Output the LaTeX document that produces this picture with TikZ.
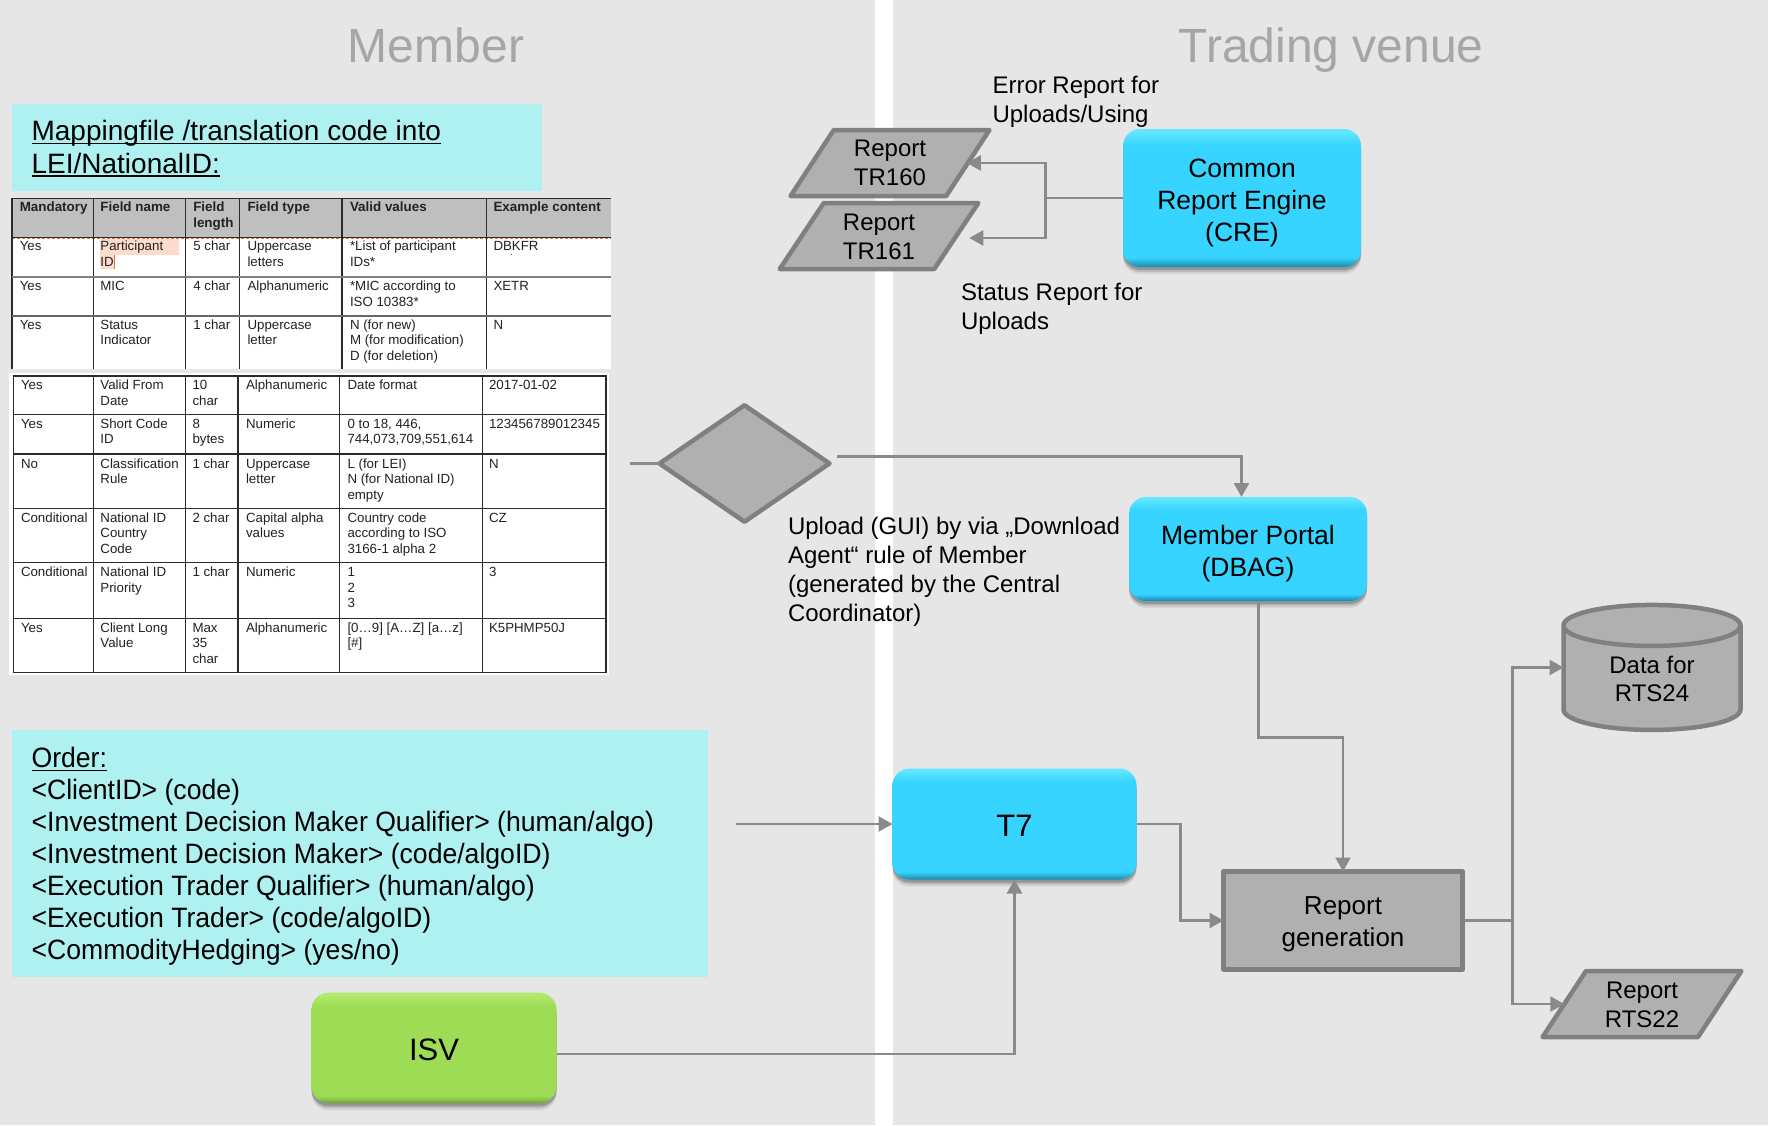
\documentclass[tikz,border=0pt]{standalone}
\usepackage{fontspec}
\setmainfont{Liberation Sans}
\newfontfamily\condfont[FakeStretch=0.95]{Liberation Sans}
\usetikzlibrary{arrows.meta,shapes.geometric,shadows}
\definecolor{panel}{HTML}{E6E6E6}
\definecolor{aqua}{HTML}{AEF1F0}
\definecolor{titlegray}{HTML}{A6A6A6}
\definecolor{shapefill}{HTML}{B0B0B0}
\definecolor{shapeline}{HTML}{808080}
\definecolor{connline}{HTML}{8A8A8A}
\definecolor{hdr}{HTML}{BFBFBF}
\definecolor{tline}{HTML}{2B2B2B}
\definecolor{ttext}{HTML}{222222}
\definecolor{hilite}{HTML}{FBDCCD}
\definecolor{cursor}{HTML}{E8743B}
\definecolor{CY1}{HTML}{1B86AB}
\definecolor{CY2}{HTML}{27A9D2}
\definecolor{CY3}{HTML}{36D4FF}
\definecolor{CY4}{HTML}{62E6FF}
\definecolor{GR1}{HTML}{6E9A3C}
\definecolor{GR2}{HTML}{86BC48}
\definecolor{GR3}{HTML}{9EDC56}
\definecolor{GR4}{HTML}{B2EA6C}
\pgfdeclareverticalshading{cyanbevel}{100bp}{color(0bp)=(CY1);color(25bp)=(CY1);color(26.5bp)=(CY2);color(28.5bp)=(CY3);color(69bp)=(CY3);color(74bp)=(CY4);color(75bp)=(CY4);color(100bp)=(CY4)}
\pgfdeclareverticalshading{greenbevel}{100bp}{color(0bp)=(GR1);color(25bp)=(GR1);color(26.5bp)=(GR2);color(28.5bp)=(GR3);color(69bp)=(GR3);color(74bp)=(GR4);color(75bp)=(GR4);color(100bp)=(GR4)}
\newcommand\myul[1]{\setbox0\hbox{#1}\rlap{\rule[-3.4bp]{\wd0}{1.6bp}}\box0}
\newcommand\topr[1]{\rule{0pt}{#1}}
\tikzset{
  x=1bp,y=-1bp,
  conn/.style={draw=connline,line width=2.5bp},
  arr/.style={conn,-{Triangle[length=14bp,width=15bp,fill=connline]}},
  tcell/.style={anchor=north west,inner sep=0pt,outer sep=0pt,align=left,text=ttext,
    font=\fontsize{13.3bp}{15.6bp}\selectfont},
  thead/.style={tcell,font=\fontsize{13.4bp}{15.6bp}\selectfont\bfseries},
  lab/.style={anchor=north west,inner sep=0pt,outer sep=0pt,align=left,
    font=\fontsize{24bp}{29bp}\selectfont},
  aquatext/.style={anchor=north west,inner sep=0pt,outer sep=0pt,align=left,
    font=\condfont\fontsize{28bp}{32bp}\selectfont},
  paneltitle/.style={anchor=base,inner sep=0pt,text=titlegray,font=\fontsize{48bp}{56bp}\selectfont},
  gloss/.style={rounded corners=17bp,align=center,inner sep=0pt,outer sep=0pt,
    drop shadow={shadow xshift=0bp,shadow yshift=-7bp,fill=black,opacity=.07},
    drop shadow={shadow xshift=0bp,shadow yshift=-5bp,fill=black,opacity=.12},
    drop shadow={shadow xshift=0bp,shadow yshift=-3bp,fill=black,opacity=.2}},
  cyanbox/.style={gloss,shade,shading=cyanbevel,font=\fontsize{26.5bp}{32bp}\selectfont},
  greenbox/.style={gloss,shade,shading=greenbevel,font=\fontsize{31bp}{36bp}\selectfont},
  grayshape/.style={draw=shapeline,fill=shapefill,line width=4.5bp,line join=round,align=center,
    inner sep=0pt,outer sep=0pt,font=\fontsize{24bp}{28.5bp}\selectfont},
  para/.style={grayshape,trapezium,trapezium left angle=58.5,trapezium right angle=121.5,
    trapezium stretches=true,minimum height=66bp},
}
\newcommand\tc[5][tcell]{\node[#1] (#2) at (#3,#4) {\topr{10.8bp}#5};}
\begin{document}
\begin{tikzpicture}
\useasboundingbox (0,0) rectangle (1768,1125);
\fill[white] (0,0) rectangle (1768,1125);
\fill[panel] (0,0) rectangle (875,1125);
\fill[panel] (893,0) rectangle (1768,1125);
\node[paneltitle] (tmember) at (436,62) {Member};
\node[paneltitle] (tvenue) at (1331,62) {Trading venue};
% mapping box
\fill[aqua] (12,104) rectangle (542,191);
\node[aquatext,font=\fontsize{28bp}{32.7bp}\selectfont] (mapping) at (31.6,120.5) {\myul{Mappingfile /translation code into}\\\myul{LEI/NationalID:}};
% table 1
\fill[white] (12,198) rectangle (611,369);
\fill[hdr] (12,198) rectangle (611,237.3);
\fill[hilite] (100,238.5) rectangle (179,255);
\fill[hilite] (100,255) rectangle (114.7,268.5);
\draw[cursor,densely dashed,line width=.9bp] (12,238) -- (611,238);
\draw[cursor,line width=.9bp] (114.5,255) -- (114.5,269);
\fill[red] (510.5,253.5) rectangle (512,255);
\draw[tline,line width=1.2bp] (12,198.3) -- (611,198.3);
\draw[tline,line width=1.2bp] (12,198.3) -- (12,369);
\foreach \xx in {93.3,185.8,239.2,342,486.3} \draw[tline,line width=1.1bp] (\xx,198.3) -- (\xx,369);
\draw[tline,line width=.8bp] (12,237.3) -- (611,237.3);
\draw[shapeline,line width=1.8bp] (12,277.3) -- (611,277.3);
\draw[shapeline!80!black,line width=1.4bp] (12,316) -- (611,316);
\tc[thead]{ha}{19.8}{200.7}{Mandatory}
\tc[thead]{hb}{100.4}{200.7}{Field name}
\tc[thead]{hc}{193.3}{200.7}{Field\\length}
\tc[thead]{hd}{247.5}{200.7}{Field type}
\tc[thead]{he}{350}{200.7}{Valid values}
\tc[thead]{hf}{493.5}{200.7}{Example content}
\tc{ra}{19.8}{240}{Yes}
\tc{rb}{100.4}{240}{Participant\\ID}
\tc{rc}{193.3}{240}{5 char}
\tc{rd}{247.5}{240}{Uppercase\\letters}
\tc{re}{350}{240}{*List of participant\\IDs*}
\tc{rf}{493.5}{240}{DBKFR}
\tc{sa}{19.8}{279.7}{Yes}
\tc{sb}{100.4}{279.7}{MIC}
\tc{sc}{193.3}{279.7}{4 char}
\tc{sd}{247.5}{279.7}{Alphanumeric}
\tc{se}{350}{279.7}{*MIC according to\\ISO 10383*}
\tc{sf}{493.5}{279.7}{XETR}
\tc{ta}{19.8}{318.3}{Yes}
\tc{tb}{100.4}{318.3}{Status\\Indicator}
\tc{tc}{193.3}{318.3}{1 char}
\tc{td}{247.5}{318.3}{Uppercase\\letter}
\tc{te}{350}{318.3}{N (for new)\\M (for modification)\\D (for deletion)}
\tc{tf}{493.5}{318.3}{N}
% table 2
\fill[white] (9,373.3) rectangle (609,675);
\draw[tline,line width=1.2bp] (13.8,376) rectangle (606,672.7);
\foreach \yy in {414.3,454,508.3,562.7,618.3} \draw[tline,line width=1.2bp] (13.8,\yy) -- (606,\yy);
\foreach \xx in {93.7,185.5,238,339.3,482.4} \draw[tline,line width=1.1bp] (\xx,376) -- (\xx,672.7);
\tc{ua}{21}{379}{Yes}
\tc{ub}{100.4}{379}{Valid From\\Date}
\tc{uc}{192.5}{379}{10\\char}
\tc{ud}{246}{379}{Alphanumeric}
\tc{ue}{347.5}{379}{Date format}
\tc{uf}{489}{379}{2017-01-02}
\tc{va}{21}{417.5}{Yes}
\tc{vb}{100.4}{417.5}{Short Code\\ID}
\tc{vc}{192.5}{417.5}{8\\bytes}
\tc{vd}{246}{417.5}{Numeric}
\tc{ve}{347.5}{417.5}{0 to 18, 446,\\744,073,709,551,614}
\tc{vf}{489}{417.5}{123456789012345}
\tc{wa}{21}{457.2}{No}
\tc{wb}{100.4}{457.2}{Classification\\Rule}
\tc{wc}{192.5}{457.2}{1 char}
\tc{wd}{246}{457.2}{Uppercase\\letter}
\tc{we}{347.5}{457.2}{L (for LEI)\\N (for National ID)\\empty}
\tc{wf}{489}{457.2}{N}
\tc{xa}{21}{511.5}{Conditional}
\tc{xb}{100.4}{511.5}{National ID\\Country\\Code}
\tc{xc}{192.5}{511.5}{2 char}
\tc{xd}{246}{511.5}{Capital alpha\\values}
\tc{xe}{347.5}{511.5}{Country code\\according to ISO\\3166-1 alpha 2}
\tc{xf}{489}{511.5}{CZ}
\tc{ya}{21}{565.9}{Conditional}
\tc{yb}{100.4}{565.9}{National ID\\Priority}
\tc{yc}{192.5}{565.9}{1 char}
\tc{yd}{246}{565.9}{Numeric}
\tc{ye}{347.5}{565.9}{1\\2\\3}
\tc{yf}{489}{565.9}{3}
\tc{za}{21}{621.5}{Yes}
\tc{zb}{100.4}{621.5}{Client Long\\Value}
\tc{zc}{192.5}{621.5}{Max\\35\\char}
\tc{zd}{246}{621.5}{Alphanumeric}
\tc{ze}{347.5}{621.5}{[0…9] [A…Z] [a…z]\\{[}\#]}
\tc{zf}{489}{621.5}{K5PHMP50J}
% order box
\fill[aqua] (12,729.6) rectangle (707.7,976.7);
\node[aquatext] (order) at (31.6,747.5) {\myul{Order:}\\<ClientID> (code)\\<Investment Decision Maker Qualifier> (human/algo)\\<Investment Decision Maker> (code/algoID)\\<Execution Trader Qualifier> (human/algo)\\<Execution Trader> (code/algoID)\\<CommodityHedging> (yes/no)};
% shapes
\node[cyanbox,minimum width=238bp,minimum height=138bp] (cre) at (1242,198) {\topr{28bp}Common\\Report Engine\\(CRE)};
\node[cyanbox,minimum width=238bp,minimum height=104bp] (portal) at (1248,549) {\topr{28.6bp}Member Portal\\(DBAG)};
\node[cyanbox,minimum width=244bp,minimum height=111bp,font=\fontsize{31bp}{36bp}\selectfont] (t7) at (1014.5,824) {\topr{24bp}T7};
\node[greenbox,minimum width=245bp,minimum height=110.6bp] (isv) at (434,1048) {\topr{26bp}ISV};
\node[grayshape,rectangle,minimum width=239bp,minimum height=98bp,font=\fontsize{26bp}{32.5bp}\selectfont] (rep) at (1343,920.5) {\topr{25.5bp}Report\\generation};
\node[para,minimum width=199bp] (tr160) at (890,163) {Report\\TR160};
\node[para,minimum width=199bp] (tr161) at (879,236) {\topr{18.2bp}Report\\TR161};
\node[para,minimum width=199bp] (rts22) at (1642,1004) {\topr{18.2bp}Report\\RTS22};
\node[grayshape,cylinder,shape border rotate=90,aspect=0.48,minimum width=177bp,minimum height=125bp] (rts24) at (1652,678.8) {Data for\\RTS24};
\node[grayshape,diamond,aspect=1.45,minimum width=170bp,minimum height=116.5bp] (dia) at (744.5,463.5) {};
% labels
\node[lab] (lerr) at (992.5,75.7) {Error Report for\\Uploads/Using};
\node[lab] (lstat) at (961,283) {Status Report for\\Uploads};
\node[lab] (lup) at (788,517.5) {Upload (GUI) by via „Download\\Agent“ rule of Member\\(generated by the Central\\Coordinator)};
% connectors
\coordinate (jcre) at (1045.5,198);
\draw[conn] (cre.west) -- (jcre);
\draw[arr] (jcre) |- ([xshift=-1bp]tr160.east);
\draw[arr] (jcre) |- ([xshift=13bp,yshift=-2bp]tr161.east);
\coordinate (dleft) at (630,463.5);
\draw[conn] (dleft) -- (dia.west);
\coordinate (dout) at (837,456.7);
\draw[arr] (dout) -| ([xshift=-6.5bp]portal.north);
\coordinate (jrep) at (1343,737.3);
\draw[arr] ([xshift=10.7bp]portal.south) |- (jrep) -- (rep.north);
\coordinate (jt7) at (1180.6,920.5);
\draw[arr] (t7.east) -| (jt7) -- (rep.west);
\coordinate (ordout) at (736.4,824);
\draw[arr] (ordout) -- (t7.west);
\draw[arr] ([yshift=-6bp]isv.east) -| (t7.south);
\coordinate (jout) at (1512.3,920.5);
\draw[conn] (rep.east) -- (jout);
\draw[arr] (jout) |- ([yshift=11.3bp]rts24.west);
\draw[arr] (jout) |- (rts22.west);
\end{tikzpicture}
\end{document}
